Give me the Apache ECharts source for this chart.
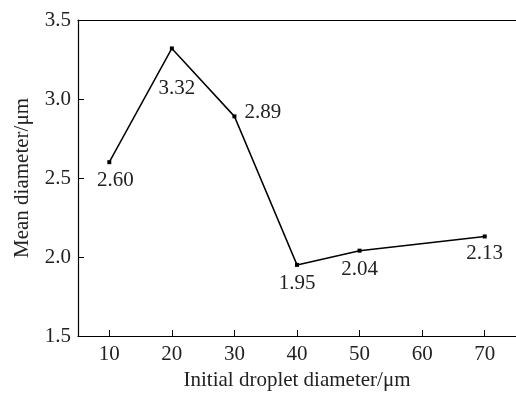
<!DOCTYPE html>
<html>
<head>
<meta charset="utf-8">
<script src="https://cdn.jsdelivr.net/npm/echarts@6/dist/echarts.min.js"></script>
<style>
  html, body { margin: 0; padding: 0; background: #fff; }
  #chart { width: 516px; height: 396px; }
</style>
</head>
<body>
<div id="chart"></div>
<script>
// 数据
var droplet = [10, 20, 30, 40, 50, 70];
var meanDiameter = [2.60, 3.32, 2.89, 1.95, 2.04, 2.13];
var valueLabels = ['2.60', '3.32', '2.89', '1.95', '2.04', '2.13'];
var xTicks = [10, 20, 30, 40, 50, 60, 70];

// 每个点标签的摆放
var labelPos = [
  { position: 'bottom', distance: 6, offset: [6, 0] },
  { position: 'bottom', distance: 28, offset: [5, 0] },
  { position: 'right', distance: 8, offset: [0, -4] },
  { position: 'bottom', distance: 6, offset: [0, 0] },
  { position: 'bottom', distance: 6, offset: [0, 0] },
  { position: 'bottom', distance: 5, offset: [0, 0] }
];

var font = 'Liberation Serif';
var fs = 21;

var seriesData = droplet.map(function (x, i) {
  return {
    value: [x, meanDiameter[i]],
    label: Object.assign({ formatter: valueLabels[i] }, labelPos[i])
  };
});

var myChart = echarts.init(document.getElementById('chart'));

var option = {
  animation: false,
  backgroundColor: '#fff',
  grid: {
    left: 78,
    top: 20,
    width: 440,
    height: 318
  },
  xAxis: [
    {
      type: 'value',
      min: 5,
      max: 75,
      interval: 10,
      name: 'Initial droplet diameter/μm',
      nameLocation: 'middle',
      nameGap: 34,
      nameTextStyle: { fontFamily: font, fontSize: fs, color: '#222' },
      axisLine: { lineStyle: { color: '#000', width: 1.2 } },
      axisTick: { inside: true, length: 6, lineStyle: { color: '#000' }, customValues: xTicks },
      axisLabel: { fontFamily: font, fontSize: fs, color: '#222', margin: 8, customValues: xTicks },
      splitLine: { show: false }
    },
    {
      type: 'value',
      position: 'top',
      min: 5,
      max: 75,
      axisLine: { show: true, lineStyle: { color: '#000', width: 1.2 } },
      axisTick: { show: false },
      axisLabel: { show: false },
      splitLine: { show: false }
    }
  ],
  yAxis: {
    type: 'value',
    min: 1.5,
    max: 3.5,
    interval: 0.5,
    name: 'Mean diameter/μm',
    nameLocation: 'middle',
    nameGap: 45,
    nameTextStyle: { fontFamily: font, fontSize: fs, color: '#222' },
    axisLine: { lineStyle: { color: '#000', width: 1.2 } },
    axisTick: { inside: true, length: 6, lineStyle: { color: '#000' } },
    axisLabel: {
      fontFamily: font, fontSize: fs, color: '#222', margin: 7,
      formatter: function (v) { return v.toFixed(1); }
    },
    splitLine: { show: false }
  },
  series: [
    {
      type: 'line',
      xAxisIndex: 0,
      data: seriesData,
      symbol: 'rect',
      symbolSize: 4,
      itemStyle: { color: '#000' },
      lineStyle: { color: '#000', width: 1.5 },
      label: { show: true, fontFamily: font, fontSize: fs, color: '#222' }
    }
  ]
};

myChart.setOption(option);
</script>
</body>
</html>
